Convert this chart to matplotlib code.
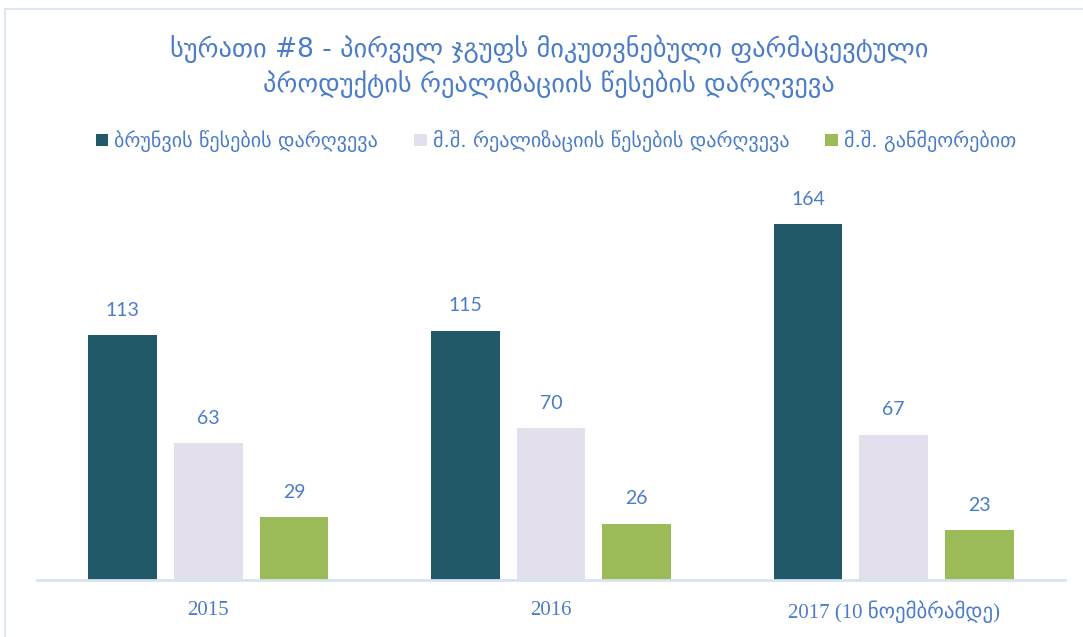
import matplotlib
matplotlib.use("Agg")
import matplotlib.pyplot as plt
import numpy as np
from matplotlib.patches import Rectangle

categories = ["2015", "2016", "2017 (10 ნოემბრამდე)"]
series_names = ["ბრუნვის წესების დარღვევა",
                "მ.შ. რეალიზაციის წესების დარღვევა",
                "მ.შ. განმეორებით"]
values_brunva = [113, 115, 164]
values_realizacia = [63, 70, 67]
values_ganmeorebit = [29, 26, 23]
colors = ["#215968", "#E4DFEC", "#9BBB59"]
title = "სურათი #8 - პირველ ჯგუფს მიკუთვნებული ფარმაცევტული\nპროდუქტის რეალიზაციის წესების დარღვევა"

txt_color = "#4A7CC9"
W, H = 1083, 637
fig = plt.figure(figsize=(W/100, H/100), dpi=100)

# frame
fig.add_artist(Rectangle((5/W, -0.1), 1.2, (H-9)/H + 0.1, transform=fig.transFigure,
                         fill=False, edgecolor="#D6E3F0", linewidth=1.2))

ax = fig.add_axes([37/W, (H-580)/H, (1065-37)/W, (580-150)/H])
x = np.arange(len(categories))
width = 0.2
step = 0.25
series = [values_brunva, values_realizacia, values_ganmeorebit]
for i, (vals, c, name) in enumerate(zip(series, colors, series_names)):
    pos = x + (i - 1) * step
    bars = ax.bar(pos, vals, width, color=c, label=name, zorder=2)
    for b, v in zip(bars, vals):
        ax.annotate(str(v), (b.get_x() + b.get_width()/2, v), xytext=(0, 18),
                    textcoords="offset points", ha="center", va="center",
                    fontsize=14, color=txt_color, family=["Lato", "DejaVu Sans"])

ax.set_xlim(-0.5, 2.5)
ax.set_ylim(0, 430 / 2.168)
for s in ["top", "right", "left"]:
    ax.spines[s].set_visible(False)
ax.spines["bottom"].set_color("#D6E3F0")
ax.spines["bottom"].set_linewidth(2)
ax.set_yticks([])
ax.set_xticks(x)
ax.set_xticklabels(categories, family=["Liberation Serif", "DejaVu Sans"],
                   fontsize=15, color=txt_color)
ax.tick_params(axis="x", length=0, pad=15)

fig.text(549/W, 1 - 66/H, title, ha="center", va="center", fontsize=19,
         color=txt_color, linespacing=1.3, family=["DejaVu Sans"])

leg = fig.legend(loc="center", bbox_to_anchor=(556/W, 1 - 141/H), ncol=3,
                 frameon=False, fontsize=14.5, handlelength=0.6, handleheight=0.6,
                 handletextpad=0.3, columnspacing=1.8)
for t in leg.get_texts():
    t.set_color(txt_color)

fig.savefig("out.png", dpi=100)
